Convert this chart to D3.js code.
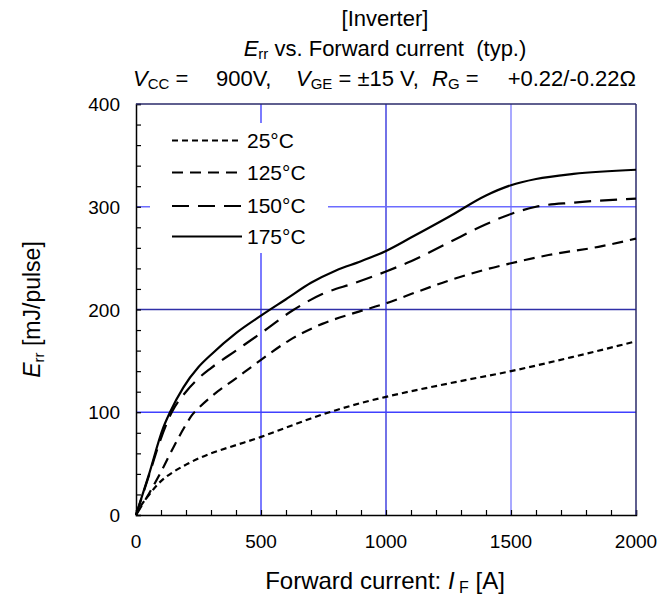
<!DOCTYPE html>
<html>
<head>
<meta charset="utf-8">
<script src="https://cdn.jsdelivr.net/npm/d3@7"></script>
<style>
  body { margin: 0; background: #fff; }
  svg { font-family: "Liberation Sans", Arial, sans-serif; }
</style>
</head>
<body>
<div id="wrapper"></div>
<script>
/* global d3 */

// data (x = forward current A, y = Err mJ/pulse)
const series = ["25°C", "125°C", "150°C", "175°C"]
const dashes = ["6,4", "11,7", "17,9", null]

const err25 = [[0,0],[20,9],[50,19],[100,33],[150,42],[200,49],[250,55],[300,60],[400,68],[500,76],[600,85],[700,94],[800,102],[900,109],[1000,115],[1250,128],[1500,140],[1750,154],[2000,169]]
const err125 = [[0,0],[50,20],[100,42],[150,66],[200,88],[223,97],[250,104],[300,115],[400,133],[500,151],[613,170],[745,186],[878,197],[1000,206],[1100,215],[1250,228],[1400,239],[1500,245],[1650,253],[1850,261],[2000,269]]
const err150 = [[0,0],[50,37],[96,72],[143,100],[200,120],[250,133],[300,143],[400,160],[500,177],[626,199],[745,215],[878,226],[1000,237],[1100,247],[1250,265],[1400,283],[1500,293],[1600,300],[1750,304],[2000,308]]
const err175 = [[0,0],[50,38],[109,85],[136,100],[189,124],[250,144],[300,156],[400,177],[500,194],[600,210],[700,226],[800,238],[900,247],[1000,257],[1100,270],[1250,290],[1400,311],[1500,321],[1600,327],[1750,332],[2000,336]]
const allSeries = [err25, err125, err150, err175]

const xMajor = [0, 500, 1000, 1500, 2000]
const yMajor = [0, 100, 200, 300, 400]
const xGrid = [500, 1000, 1500]
const yGrid = [100, 200, 300]
const xGridColors = ["#2424ff", "#1414d8", "#7070ff"]
const yGridColors = ["#4040ff", "#3030a8", "#6c6cff"]

let dimensions = {
  width: 660,
  height: 595,
  margins: { top: 104, right: 24, bottom: 80, left: 136 },
}
dimensions.boundedWidth = dimensions.width - dimensions.margins.left - dimensions.margins.right
dimensions.boundedHeight = dimensions.height - dimensions.margins.top - dimensions.margins.bottom

const wrapper = d3.select("#wrapper")
  .append("svg")
    .attr("width", dimensions.width)
    .attr("height", dimensions.height)

const bounds = wrapper.append("g")
  .attr("transform", `translate(${dimensions.margins.left},${dimensions.margins.top})`)

const xScale = d3.scaleLinear().domain([0, 2000]).range([0, dimensions.boundedWidth])
const yScale = d3.scaleLinear().domain([0, 400]).range([dimensions.boundedHeight, 0])

// grid
bounds.selectAll(".xgrid").data(xGrid).join("line")
  .attr("x1", d => xScale(d)).attr("x2", d => xScale(d))
  .attr("y1", 0).attr("y2", dimensions.boundedHeight)
  .attr("stroke", (d, i) => xGridColors[i]).attr("stroke-width", 1.2)
bounds.selectAll(".ygrid").data(yGrid).join("line")
  .attr("x1", 0).attr("x2", dimensions.boundedWidth)
  .attr("y1", d => yScale(d)).attr("y2", d => yScale(d))
  .attr("stroke", (d, i) => yGridColors[i]).attr("stroke-width", 1.3)

// legend box hides grid behind it
bounds.append("rect")
  .attr("x", 14).attr("y", 19).attr("width", 178).attr("height", 130)
  .attr("fill", "#fff")

// axes with inward ticks
const xAxis = bounds.append("g")
  .attr("transform", `translate(0,${dimensions.boundedHeight})`)
  .call(d3.axisBottom(xScale).tickValues(d3.range(0, 2001, 100)).tickSize(-5).tickFormat(""))
const yAxis = bounds.append("g")
  .call(d3.axisLeft(yScale).tickValues(d3.range(0, 401, 20)).tickSize(-5).tickFormat(""))
;[xAxis, yAxis].forEach(a => {
  a.selectAll("path").attr("stroke", "#000").attr("stroke-width", 1.5)
  a.selectAll("line").attr("stroke", "#000").attr("stroke-width", 1.2)
})

// top and right frame
bounds.append("line").attr("x1", 0).attr("x2", dimensions.boundedWidth).attr("y1", 0).attr("y2", 0)
  .attr("stroke", "#2a2a6a").attr("stroke-width", 1.5)
bounds.append("line").attr("x1", dimensions.boundedWidth).attr("x2", dimensions.boundedWidth)
  .attr("y1", 0).attr("y2", dimensions.boundedHeight)
  .attr("stroke", "#2a2a6a").attr("stroke-width", 1.5)

// tick labels
bounds.selectAll(".xlab").data(xMajor).join("text")
  .attr("x", d => xScale(d)).attr("y", dimensions.boundedHeight + 33)
  .attr("text-anchor", "middle").style("font-size", "19px").text(d => d)
bounds.selectAll(".ylab").data(yMajor).join("text")
  .attr("x", -16).attr("y", d => yScale(d) + 7)
  .attr("text-anchor", "end").style("font-size", "19px").text(d => d)

// curves
const lineGenerator = d3.line()
  .x(d => xScale(d[0]))
  .y(d => yScale(d[1]))
  .curve(d3.curveMonotoneX)

allSeries.forEach((s, i) => {
  bounds.append("path")
    .attr("d", lineGenerator(s))
    .attr("fill", "none")
    .attr("stroke", "#000")
    .attr("stroke-width", 2.2)
    .attr("stroke-dasharray", dashes[i])
})

// legend
const legendY = [36.5, 68.5, 102, 132.5]
series.forEach((name, i) => {
  bounds.append("line")
    .attr("x1", 36).attr("x2", 106)
    .attr("y1", legendY[i]).attr("y2", legendY[i])
    .attr("stroke", "#000").attr("stroke-width", 2.2)
    .attr("stroke-dasharray", dashes[i])
  bounds.append("text")
    .attr("x", 111).attr("y", legendY[i] + 7)
    .style("font-size", "21px").text(name)
})

// titles
const title = wrapper.append("g").style("font-size", "22px").attr("text-anchor", "middle")
title.append("text").attr("x", 385).attr("y", 26).text("[Inverter]")
const t2 = title.append("text").attr("x", 385).attr("y", 56)
t2.append("tspan").style("font-style", "italic").text("E")
t2.append("tspan").style("font-size", "15px").attr("dy", 3).text("rr")
t2.append("tspan").attr("dy", -3).text(" vs. Forward current\u00a0 (typ.)")

const cond = wrapper.append("g").style("font-size", "22px")
const c1 = cond.append("text").attr("x", 133).attr("y", 86)
c1.append("tspan").style("font-style", "italic").text("V")
c1.append("tspan").style("font-size", "15px").attr("dy", 3).text("CC")
c1.append("tspan").attr("dy", -3).text("\u00a0=")
cond.append("text").attr("x", 216).attr("y", 86).text("900V,")
const c2 = cond.append("text").attr("x", 296).attr("y", 86)
c2.append("tspan").style("font-style", "italic").text("V")
c2.append("tspan").style("font-size", "15px").attr("dy", 3).text("GE")
c2.append("tspan").attr("dy", -3).text("\u00a0= ±15 V,")
const c3 = cond.append("text").attr("x", 432).attr("y", 86)
c3.append("tspan").style("font-style", "italic").text("R")
c3.append("tspan").style("font-size", "15px").attr("dy", 3).text("G")
c3.append("tspan").attr("dy", -3).text("\u00a0=")
cond.append("text").attr("x", 636).attr("y", 86).attr("text-anchor", "end").text("+0.22/-0.22Ω")

// axis titles
const xt = wrapper.append("text").attr("x", 385).attr("y", 589)
  .attr("text-anchor", "middle").style("font-size", "24px")
xt.append("tspan").text("Forward current: ")
xt.append("tspan").style("font-style", "italic").text("I")
xt.append("tspan").style("font-size", "16px").attr("dy", 4).text("\u00a0F")
xt.append("tspan").attr("dy", -4).text(" [A]")

const yt = wrapper.append("text")
  .attr("transform", `translate(40,${dimensions.margins.top + dimensions.boundedHeight / 2}) rotate(-90)`)
  .attr("text-anchor", "middle").style("font-size", "23px")
yt.append("tspan").style("font-style", "italic").text("E")
yt.append("tspan").style("font-size", "15px").attr("dy", 4).text("rr")
yt.append("tspan").attr("dy", -4).text(" [mJ/pulse]")
</script>
</body>
</html>
